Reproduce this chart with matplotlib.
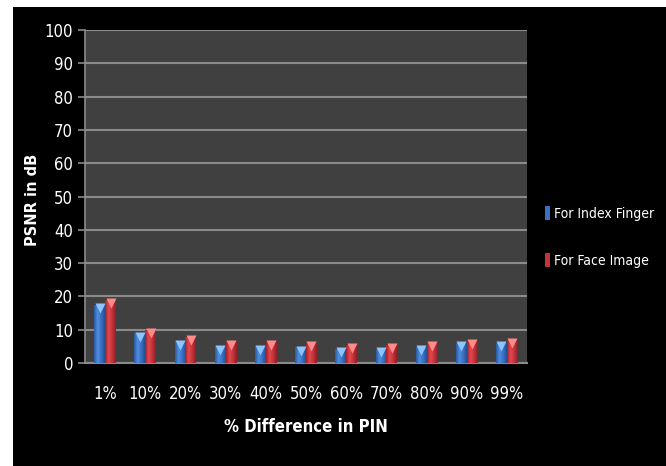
import numpy as np
import matplotlib
matplotlib.use('Agg')
import matplotlib.pyplot as plt
from matplotlib import font_manager
from matplotlib.patches import Rectangle, Patch
from matplotlib.colors import LinearSegmentedColormap

categories = ['1%', '10%', '20%', '30%', '40%', '50%', '60%', '70%', '80%', '90%', '99%']
index_finger = [17.5, 8.9, 6.5, 5.0, 5.0, 4.7, 4.2, 4.2, 4.8, 6.1, 6.1]
face_image = [19.0, 9.9, 7.9, 6.5, 6.4, 6.1, 5.4, 5.4, 6.1, 6.8, 6.9]

# pick a narrow font if one is installed
fams = {(f.name, f.stretch) for f in font_manager.fontManager.ttflist}
names = {f.name for f in font_manager.fontManager.ttflist}
stretch = 'normal'
if 'Liberation Sans Narrow' in names:
    narrow = ['Liberation Sans Narrow', 'DejaVu Sans']
elif any(n == 'DejaVu Sans' and s == 'condensed' for n, s in fams):
    narrow = ['DejaVu Sans']
    stretch = 'condensed'
else:
    narrow = ['Roboto', 'DejaVu Sans']
plt.rcParams['font.family'] = narrow
plt.rcParams['font.stretch'] = stretch

fig = plt.figure(figsize=(6.66, 4.66), dpi=100)
fig.patch.set_facecolor('white')
fig.patches.append(Rectangle((13 / 666, 0), 1, 1 - 7 / 466, transform=fig.transFigure,
                             facecolor='black', edgecolor='none', zorder=-10))

ax = fig.add_axes([85 / 666, 1 - 363 / 466, 442 / 666, 333 / 466])
ax.set_facecolor('#404040')

x = np.arange(len(categories))
w = 0.27

blue_cmap = LinearSegmentedColormap.from_list('b', ['#2a5aa0', '#4f8ee0', '#3a70c4', '#24508f'])
red_cmap = LinearSegmentedColormap.from_list('r', ['#a02228', '#e04a50', '#c4323a', '#8e1e24'])

def draw_bars(xs, vals, cmap, tip):
    bars = ax.bar(xs, vals, width=w, color=cmap(0.5), edgecolor='none', zorder=3)
    grad = np.linspace(0, 1, 64).reshape(1, -1)
    for b in bars:
        x0, y0 = b.get_x(), b.get_y()
        im = ax.imshow(grad, cmap=cmap, aspect='auto', zorder=3.1,
                       extent=(x0, x0 + b.get_width(), y0, y0 + b.get_height()))
        im.set_clip_path(b)
    ax.plot(xs, np.array(vals) - 1.0, linestyle='none', marker='v', markersize=7,
            color=tip, markeredgecolor='none', zorder=4)
    return bars

draw_bars(x - w / 2, index_finger, blue_cmap, '#8cc4ff')
draw_bars(x + w / 2, face_image, red_cmap, '#ff8a8a')

ax.set_xlim(-0.5, len(categories) - 0.5)
ax.set_ylim(0, 100)
ax.set_yticks(range(0, 101, 10))
ax.set_xticks(x)
ax.set_xticklabels(categories)
ax.yaxis.grid(True, color='#8a8a8a', linewidth=1.5, zorder=1)
ax.set_axisbelow(True)

for s in ['top', 'right']:
    ax.spines[s].set_visible(False)
ax.spines['left'].set_color('#8a8a8a')
ax.spines['bottom'].set_color('#8a8a8a')
ax.spines['left'].set_linewidth(1.2)
ax.spines['bottom'].set_linewidth(1.5)
ax.tick_params(axis='y', colors='#8a8a8a', labelcolor='white', labelsize=12, length=5, width=1.2)
ax.tick_params(axis='x', length=0, labelcolor='white', labelsize=12, pad=16)

ax.set_xlabel('% Difference in PIN', color='white', fontsize=12, fontweight='bold', labelpad=11)
ax.set_ylabel('PSNR in dB', color='white', fontsize=10.5, fontweight='bold',
              family=['DejaVu Sans'], stretch='normal')
ax.yaxis.set_label_coords(-0.102, 0.49)

handles = [Patch(facecolor='#3a70c4', label='For Index Finger'),
           Patch(facecolor='#c4323a', label='For Face Image')]
leg = fig.legend(handles=handles, loc='center left', bbox_to_anchor=(532 / 666, 1 - 237 / 466),
                 frameon=False, fontsize=10, handlelength=0.4, handleheight=1.2,
                 handletextpad=0.3, labelspacing=2.3, labelcolor='white')

fig.savefig('out.png', dpi=100, facecolor='white')
